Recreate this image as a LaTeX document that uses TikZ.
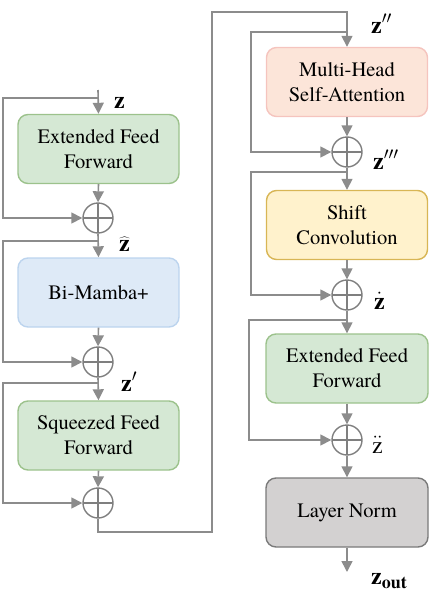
\documentclass[tikz,border=0pt]{standalone}
\usepackage{fontspec}
\setmainfont{texgyretermes-regular.otf}[BoldFont=texgyretermes-bold.otf, ItalicFont=texgyretermes-italic.otf, BoldItalicFont=texgyretermes-bolditalic.otf]
\usetikzlibrary{arrows.meta}
\definecolor{lgray}{HTML}{8C8C8C}
\definecolor{ogray}{HTML}{7F7F7F}
\definecolor{gfill}{HTML}{D5E8D4}
\definecolor{gdraw}{HTML}{9CC28C}
\definecolor{bfill}{HTML}{DEEAF7}
\definecolor{bdraw}{HTML}{BCD4EE}
\definecolor{pfill}{HTML}{FCE5D9}
\definecolor{pdraw}{HTML}{F5C4BE}
\definecolor{yfill}{HTML}{FFF2CC}
\definecolor{ydraw}{HTML}{D8B655}
\definecolor{kfill}{HTML}{D3D1D1}
\definecolor{kdraw}{HTML}{7A7A7A}
\newcommand{\zb}{\textbf{z}}
\begin{document}
\begin{tikzpicture}[x=1pt,y=-1pt,
  blk/.style={rounded corners=10pt, line width=1.4pt, minimum width=161pt, minimum height=69pt,
    align=center, inner sep=0pt, font=\fontsize{20.5}{25}\selectfont},
  green/.style={blk, fill=gfill, draw=gdraw},
  blue/.style={blk, fill=bfill, draw=bdraw},
  pink/.style={blk, fill=pfill, draw=pdraw},
  yell/.style={blk, fill=yfill, draw=ydraw},
  gray/.style={blk, fill=kfill, draw=kdraw},
  conn/.style={draw=lgray, line width=1.6pt},
  arr/.style={conn, -{Triangle[length=11pt,width=11pt]}},
  plus/.style={circle, draw=ogray, fill=white, line width=1.4pt, minimum size=30pt, inner sep=0pt,
    path picture={\draw[ogray, line width=1.4pt] (path picture bounding box.north) -- (path picture bounding box.south)
      (path picture bounding box.west) -- (path picture bounding box.east);}},
  lab/.style={anchor=base west, inner sep=0pt, font=\fontsize{24}{24}\selectfont}
]
\useasboundingbox (0,0) rectangle (431,597);

% left column
\node[green] (e1) at (98.5,149) {Extended Feed\\Forward};
\node[blue]  (bm) at (98.5,292.5) {Bi-Mamba+};
\node[green] (sq) at (98.5,435.5) {Squeezed Feed\\Forward};
\node[plus] (o1) at (98,218) {};
\node[plus] (o2) at (98,362) {};
\node[plus] (o3) at (98,503) {};

% right column
\node[pink] (mh) at (347,82) {Multi-Head\\Self-Attention};
\node[yell] (sc) at (347,225) {Shift\\Convolution};
\node[green, minimum width=162pt] (e2) at (347,368.5) {Extended Feed\\Forward};
\node[gray, minimum width=162pt] (ln) at (347,512.5) {Layer Norm};
\node[plus] (o4) at (347,152) {};
\node[plus] (o5) at (347,295) {};
\node[plus] (o6) at (347,440) {};

\coordinate (in) at (98,90);
\coordinate (L) at (3,0);
\coordinate (R) at (251,0);
\coordinate (R2) at (249,0);
\coordinate (b1) at (98,98);
\coordinate (b2) at (98,241);
\coordinate (b3) at (98,383);
\coordinate (b4) at (347,32);
\coordinate (b5) at (347,172);
\coordinate (b6) at (347,320);
\coordinate (B) at (212,532);
\coordinate (T) at (212,12);
\coordinate (out) at (347,572);

% main flow
\draw[arr] (in) -- (e1.north);
\draw[arr] (e1.south) -- (o1.north);
\draw[arr] (o1.south) -- (bm.north);
\draw[arr] (bm.south) -- (o2.north);
\draw[arr] (o2.south) -- (sq.north);
\draw[arr] (sq.south) -- (o3.north);
\draw[arr] (o3.south) |- (B) -- (T) -| (mh.north);
\draw[arr] (mh.south) -- (o4.north);
\draw[arr] (o4.south) -- (sc.north);
\draw[arr] (sc.south) -- (o5.north);
\draw[arr] (o5.south) -- (e2.north);
\draw[arr] (e2.south) -- (o6.north);
\draw[arr] (o6.south) -- (ln.north);
\draw[arr] (ln.south) -- (out);

% residual loops
\draw[arr] (b1) -- (b1 -| L) |- (o1.west);
\draw[arr] (b2) -- (b2 -| L) |- (o2.west);
\draw[arr] (b3) -- (b3 -| L) |- (o3.west);
\draw[arr] (b4) -- (b4 -| R) |- (o4.west);
\draw[arr] (b5) -- (b5 -| R) |- (o5.west);
\draw[arr] (b6) -- (b6 -| R2) |- (o6.west);

% labels
\node[lab] (lz) at (114,108) {\zb};
\node[lab] (lzh) at (119,251) {$\widehat{\hbox{\zb}}$};
\node[lab] (lz1) at (121,391) {\zb$^{\prime}$};
\node[lab] (lz2) at (371,33) {\zb$^{\prime\prime}$};
\node[lab] (lz3) at (373,169) {\zb$^{\prime\prime\prime}$};
\node[lab] (lzd) at (374,309) {$\dot{\hbox{\zb}}$};
\node[lab] (lzdd) at (372,453) {$\ddot{\hbox{z}}$};
\node[lab] (lzo) at (371,584) {\zb\raisebox{-4pt}{\fontsize{18}{18}\selectfont\textbf{out}}};
\end{tikzpicture}
\end{document}
